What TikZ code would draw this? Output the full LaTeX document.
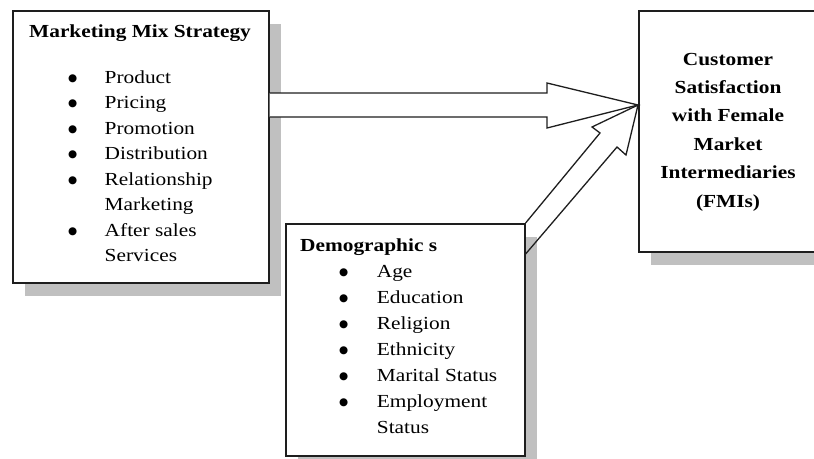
\documentclass[tikz,border=0pt]{standalone}
\usepackage{fontspec}
\usepackage{graphicx}
\setmainfont{Liberation Serif}
\newfontfamily\bulfont{DejaVu Sans}
\usetikzlibrary{shadows}
\definecolor{shgray}{RGB}{192,192,192}
\definecolor{edge}{RGB}{30,30,30}
\newcommand{\bigbul}{\raisebox{1.8pt}{\scalebox{0.86}[1]{\bulfont\fontsize{10.5}{10.5}\selectfont ●}}}
\begin{document}
\begin{tikzpicture}[x=1pt,y=-1pt,
  boxnode/.style={draw=edge, line width=1.6pt, fill=white, inner sep=0, anchor=north west,
    general shadow={fill=shgray, shadow xshift=12pt, shadow yshift=-13pt}},
  listtext/.style={inner sep=0, anchor=base west, font=\fontsize{18.4}{25.5}\selectfont},
  listtextb/.style={inner sep=0, anchor=base west, font=\fontsize{18.4}{26}\selectfont},
  titletext/.style={inner sep=0, anchor=base west, font=\fontsize{18.4}{22}\selectfont\bfseries},
  goaltext/.style={inner sep=0, anchor=base, font=\fontsize{18.4}{28.4}\selectfont\bfseries},
  fatarrow/.style={draw=edge, line width=1.3pt, line join=miter}
]
\useasboundingbox (0,0) rectangle (814,458);

% boxes
\node[boxnode, minimum width=256pt, minimum height=272pt] (mix) at (12,10) {};
\node[boxnode, minimum width=239pt, minimum height=232pt] (demo) at (285,223) {};
\node[boxnode, minimum width=180pt, minimum height=241pt] (cust) at (638,10) {};

% texts
\node[titletext] (mixtitle) at (29,37) {\scalebox{1.16}[1]{Marketing Mix Strategy}};
\node[listtext] (mixlist) at (68,83) {\scalebox{1.16}[1]{\begin{tabular}[t]{@{}p{31.5pt}@{}l@{}}
\bigbul & Product\\
\bigbul & Pricing\\
\bigbul & Promotion\\
\bigbul & Distribution\\
\bigbul & Relationship\\
 & Marketing\\
\bigbul & After sales\\
 & Services
\end{tabular}}};

\node[titletext] (demotitle) at (300,251) {\scalebox{1.16}[1]{Demographic s}};
\node[listtextb] (demolist) at (339,277) {\scalebox{1.16}[1]{\begin{tabular}[t]{@{}p{32.5pt}@{}l@{}}
\bigbul & Age\\
\bigbul & Education\\
\bigbul & Religion\\
\bigbul & Ethnicity\\
\bigbul & Marital Status\\
\bigbul & Employment\\
 & Status
\end{tabular}}};

\node[goaltext] (custtext) at (728,65) {\scalebox{1.16}[1]{\begin{tabular}[t]{@{}c@{}}
Customer\\
Satisfaction\\
with Female\\
Market\\
Intermediaries\\
(FMIs)
\end{tabular}}};

% arrow points
\coordinate (tip) at (cust.west |- 0,105);
\coordinate (h1) at (mix.east |- 0,93);
\coordinate (h2) at (mix.east |- 0,117);
\coordinate (d1) at (demo.north east);
\coordinate (d2) at (demo.east |- 0,254);

% horizontal block arrow
\draw[fatarrow, fill=white] (h1) -- (547,93) -- (547,83) -- (tip) -- (547,128) -- (547,117) -- (h2);
% diagonal block arrow
\draw[fatarrow] (d1) -- (600,133) -- (592,127) -- (tip) -- (626,155) -- (617,147) -- (d2);
\end{tikzpicture}
\end{document}
